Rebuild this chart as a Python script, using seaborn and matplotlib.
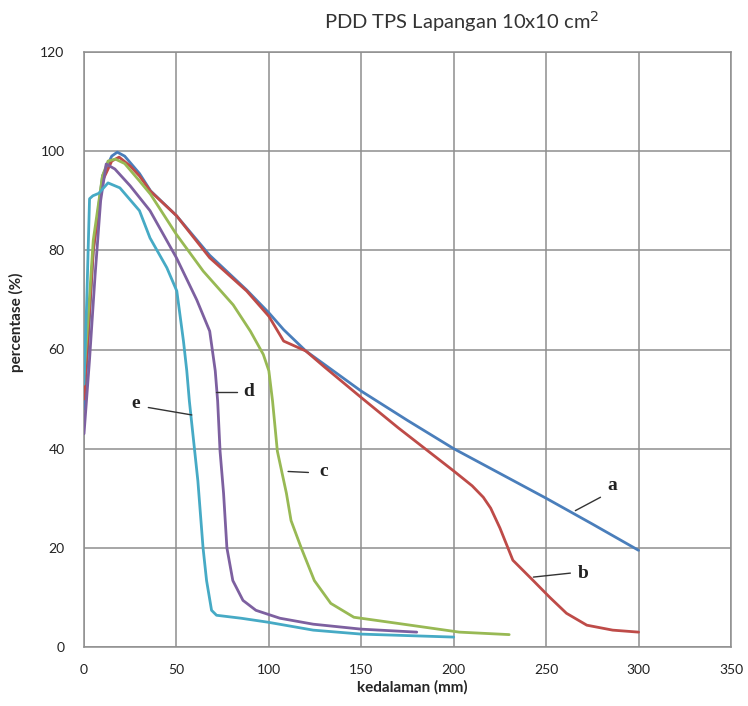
import pandas as pd
import matplotlib
matplotlib.use("Agg")
import matplotlib.pyplot as plt
import seaborn as sns

# ------------------- Data -------------------
x_a = [0, 2, 5, 10, 15, 18, 22, 30, 36, 50, 68, 88, 100, 108, 120, 130, 150,
       175, 200, 225, 250, 275, 300]
y_a = [48, 60, 80, 95, 99, 99.8, 99, 95.5, 92, 87, 79, 72, 67.4, 64, 59.7, 57,
       51.6, 45.7, 40, 35, 30, 24.8, 19.5]

x_b = [0, 2, 5, 10, 15, 19, 25, 30, 36, 50, 68, 88, 100, 108, 120, 130, 150,
       170, 200, 210, 216, 220, 225, 232, 243, 252, 261, 272, 286, 300]
y_b = [50, 62, 80, 94, 98, 98.8, 97, 95, 91.9, 87, 78.5, 71.8, 66.7, 61.7, 59.7,
       56.5, 50.3, 44.2, 35.5, 32.5, 30.2, 28, 24, 17.5, 13.4, 10, 6.8, 4.4,
       3.4, 3.0]

x_c = [0, 2, 5, 10, 13, 17, 22, 30, 36, 50, 64.5, 80.7, 90, 97, 100, 102,
       104.6, 109.5, 112, 117.5, 124.6, 133.5, 146, 169, 203, 230]
y_c = [55, 65, 82, 95, 98, 98.4, 97.5, 94, 91.3, 83.2, 75.8, 69, 63.7, 59, 55.7,
       49.6, 39.5, 31, 25.5, 20, 13.4, 8.8, 6, 4.8, 3, 2.5]

x_d = [0, 3, 6, 9, 12, 16.7, 25, 35.7, 50, 61, 68, 71, 72.3, 73.6, 75.5, 77.3,
       80.5, 86, 93, 106, 124, 150, 180]
y_d = [43, 58, 75, 90, 97.4, 96.4, 93, 88, 78.5, 70, 63.7, 55.7, 49.6, 39.5,
       31, 20, 13.4, 9.4, 7.4, 5.8, 4.6, 3.6, 3.0]

x_e = [0, 1.5, 3, 4.8, 8, 13, 19.4, 30, 35.7, 44.8, 50.2, 53.8, 55.6, 57,
       61.6, 64.4, 66.3, 69, 71.7, 85, 99.5, 124, 150, 200]
y_e = [53, 70, 90.4, 91, 91.5, 93.6, 92.6, 88, 82.5, 76.5, 71.8, 61.7, 55.7,
       49.6, 33.5, 20, 13.4, 7.4, 6.4, 5.8, 5, 3.4, 2.6, 2.0]

curve_names = ["a", "b", "c", "d", "e"]
curve_colors = ["#4a7ebb", "#be4b48", "#98b954", "#7d60a0", "#46aac5"]

# label text, leader line start/end, text position
label_text = ["a", "b", "c", "d", "e"]
leader_from = [(265.8, 27.5), (243.1, 14.1), (110.4, 35.4), (71.5, 51.5), (58.3, 46.8)]
leader_to = [(279.4, 30.2), (263.1, 14.9), (121.4, 35.2), (82.7, 51.5), (34.8, 48.3)]
label_pos = [(285.7, 32.5), (270.0, 14.9), (129.6, 35.4), (89.0, 51.5), (28.2, 49.2)]

x_ticks = [0, 50, 100, 150, 200, 250, 300, 350]
y_ticks = [0, 20, 40, 60, 80, 100, 120]

# ------------------- Long table for seaborn -------------------
frames = []
for name, xs, ys in zip(curve_names, [x_a, x_b, x_c, x_d, x_e],
                        [y_a, y_b, y_c, y_d, y_e]):
    frames.append(pd.DataFrame({"depth": xs, "pdd": ys, "curve": name}))
df = pd.concat(frames, ignore_index=True)

# ------------------- Plot -------------------
sns.set_style("white")
plt.rcParams["font.family"] = ["Lato", "DejaVu Sans"]

fig, ax = plt.subplots(figsize=(7.48, 7.06), dpi=100)
fig.subplots_adjust(left=84 / 748, right=731 / 748, top=1 - 52 / 706, bottom=1 - 647 / 706)

sns.lineplot(data=df, x="depth", y="pdd", hue="curve", units="curve",
             estimator=None, sort=False, palette=dict(zip(curve_names, curve_colors)),
             linewidth=2.0, legend=False, ax=ax, zorder=3)

ax.set_xlim(0, 350)
ax.set_ylim(0, 120)
ax.set_xticks(x_ticks)
ax.set_yticks(y_ticks)
ax.grid(True, color="#8e8e8e", linewidth=1.1, zorder=0)
for sp in ax.spines.values():
    sp.set_color("#8e8e8e")
    sp.set_linewidth(1.1)
ax.tick_params(axis="both", length=4, color="#8e8e8e", labelsize=10, labelcolor="#222222")
ax.tick_params(axis="y", pad=10)
ax.tick_params(axis="x", pad=8)

ax.set_xlabel("kedalaman (mm)", fontsize=11, fontweight="bold")
ax.set_ylabel("percentase (%)", fontsize=11, fontweight="bold")
ax.xaxis.set_label_coords(0.507, -0.056)
ax.yaxis.set_label_coords(-0.092, 0.546)

fig.text(462 / 748, 1 - 22 / 706, "PDD TPS Lapangan 10x10 cm$^2$", ha="center",
         va="center", fontsize=14.5, color="#333333")

for txt, p0, p1, pt in zip(label_text, leader_from, leader_to, label_pos):
    ax.plot([p0[0], p1[0]], [p0[1], p1[1]], color="#333333", linewidth=1.0, zorder=4)
    ax.text(pt[0], pt[1], txt, ha="center", va="center", fontsize=14,
            fontweight="bold", family="Liberation Serif", color="#222222", zorder=4)

plt.savefig("out.png", dpi=100)
